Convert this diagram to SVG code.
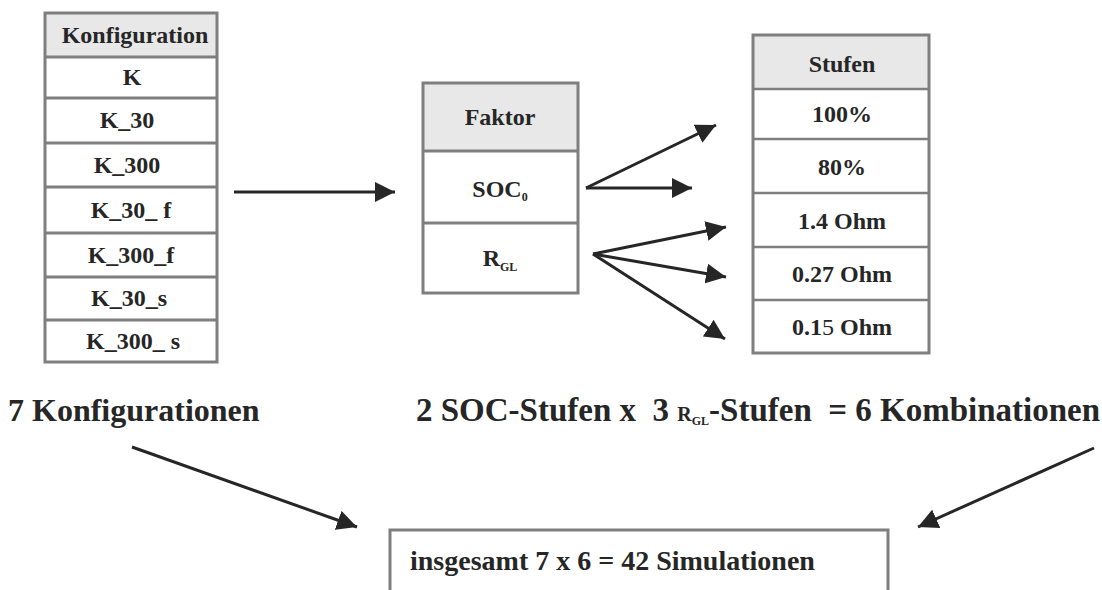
<svg xmlns="http://www.w3.org/2000/svg" width="1102" height="590" viewBox="0 0 1102 590">
<style>
  text { font-family: "Liberation Serif", "Times New Roman", serif; font-weight: bold; fill: #262626; }
  .cell { font-size: 24px; text-anchor: middle; }
  .hdr { fill: #e8e8e8; }
  .box { fill: none; stroke: #7f7f7f; stroke-width: 3; }
  .sep { stroke: #7f7f7f; stroke-width: 3; }
  .sep2 { stroke: #7f7f7f; stroke-width: 2.5; }
  .big { font-size: 32px; }
  .conn line { stroke: #262626; stroke-width: 3; marker-end: url(#ah); }
</style>
<defs>
  <marker id="ah" markerUnits="userSpaceOnUse" markerWidth="20" markerHeight="20" refX="20" refY="10" orient="auto">
    <path d="M0,0 L20,10 L0,20 z" fill="#262626"/>
  </marker>
</defs>
<rect width="1102" height="590" fill="#ffffff"/>

<g id="konfiguration">
  <rect class="hdr" x="45" y="13" width="172" height="44"/>
  <rect fill="#fff" x="45" y="57" width="172" height="305"/>
  <line class="sep" x1="45" y1="57" x2="217" y2="57"/>
  <line class="sep" x1="45" y1="98" x2="217" y2="98"/>
  <line class="sep" x1="45" y1="143" x2="217" y2="143"/>
  <line class="sep" x1="45" y1="187" x2="217" y2="187"/>
  <line class="sep" x1="45" y1="233" x2="217" y2="233"/>
  <line class="sep" x1="45" y1="277" x2="217" y2="277"/>
  <line class="sep" x1="45" y1="320" x2="217" y2="320"/>
  <rect class="box" x="45" y="13" width="172" height="349"/>
  <text class="cell" x="135" y="43">Konfiguration</text>
  <text class="cell" x="132" y="85">K</text>
  <text class="cell" x="127" y="128">K_30</text>
  <text class="cell" x="127" y="173">K_300</text>
  <text class="cell" x="131" y="218" xml:space="preserve">K_30_ f</text>
  <text class="cell" x="131" y="263">K_300_f</text>
  <text class="cell" x="129" y="306">K_30_s</text>
  <text class="cell" x="133" y="349" xml:space="preserve">K_300_ s</text>
</g>

<g id="faktor">
  <rect class="hdr" x="423" y="83" width="155" height="68"/>
  <rect fill="#fff" x="423" y="151" width="155" height="142"/>
  <line class="sep" x1="423" y1="151" x2="578" y2="151"/>
  <line class="sep" x1="423" y1="223" x2="578" y2="223"/>
  <rect class="box" x="423" y="83" width="155" height="210"/>
  <text class="cell" x="500" y="125">Faktor</text>
  <text class="cell" x="500" y="197">SOC<tspan font-size="12" dy="4">0</tspan></text>
  <text class="cell" x="500" y="266">R<tspan font-size="12" dy="5">GL</tspan></text>
</g>

<g id="stufen">
  <rect class="hdr" x="753" y="35" width="176" height="54"/>
  <rect fill="#fff" x="753" y="89" width="176" height="264"/>
  <line class="sep2" x1="753" y1="89" x2="929" y2="89"/>
  <line class="sep2" x1="753" y1="139" x2="929" y2="139"/>
  <line class="sep2" x1="753" y1="193" x2="929" y2="193"/>
  <line class="sep2" x1="753" y1="247" x2="929" y2="247"/>
  <line class="sep2" x1="753" y1="300" x2="929" y2="300"/>
  <rect class="box" x="753" y="35" width="176" height="318"/>
  <text class="cell" x="842" y="72">Stufen</text>
  <text class="cell" x="842" y="122">100%</text>
  <text class="cell" x="842" y="175">80%</text>
  <text class="cell" x="842" y="229">1.4 Ohm</text>
  <text class="cell" x="842" y="282">0.27 Ohm</text>
  <text class="cell" x="842" y="335">0.1<tspan font-weight="normal">5</tspan> Ohm</text>
</g>

<g id="label-konfigurationen">
  <text class="big" x="8" y="421">7 Konfigurationen</text>
</g>

<g id="label-kombinationen">
  <text x="416" y="421" font-size="33" xml:space="preserve">2 SOC-Stufen x  3 <tspan font-size="20">R</tspan><tspan font-size="12" dy="4">GL</tspan><tspan dy="-4">-Stufen  = 6 Kombinationen</tspan></text>
</g>

<g id="ergebnis">
  <rect fill="#fff" class="box" x="390" y="530" width="498" height="80"/>
  <text x="410" y="570" font-size="28">insgesamt 7 x 6 = 42 Simulationen</text>
</g>

<g class="conn" id="connectors">
  <line x1="234" y1="192" x2="395" y2="192"/>
  <line x1="586" y1="188" x2="716" y2="125"/>
  <line x1="586" y1="188" x2="692" y2="188"/>
  <line x1="593" y1="254" x2="726" y2="227"/>
  <line x1="593" y1="254" x2="726" y2="277"/>
  <line x1="593" y1="254" x2="725" y2="339"/>
  <line x1="132" y1="447" x2="357" y2="527"/>
  <line x1="1094" y1="448" x2="918" y2="527"/>
</g>
</svg>
